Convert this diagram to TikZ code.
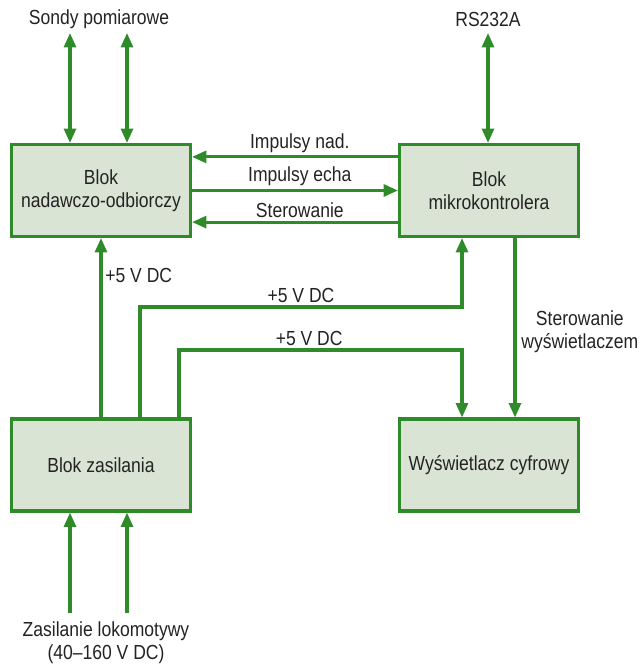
\documentclass[tikz,border=0pt]{standalone}
\usepackage{fontspec}
\setmainfont[FakeStretch=0.86]{Liberation Sans}
\usetikzlibrary{arrows.meta,positioning,calc}
\definecolor{BlkGreen}{RGB}{47,139,42}
\definecolor{BlkFill}{RGB}{217,228,212}
\definecolor{BlkText}{RGB}{35,35,35}
\tikzset{
  blk/box/.style={
    draw=BlkGreen,
    line width=2.2pt,
    fill=BlkFill,
    align=center,
    text=BlkText,
    minimum width=4.475cm,
    minimum height=2.3cm,
    font=\fontsize{14.5}{16.3}\selectfont
  },
  blk/arrow/.style={-{Triangle[length=3.6mm,width=3mm]}, line width=2.2pt, draw=BlkGreen},
  blk/dblarrow/.style={{Triangle[length=3.6mm,width=3mm]}-{Triangle[length=3.6mm,width=3mm]}, line width=2.2pt, draw=BlkGreen},
  blk/label/.style={font=\fontsize{14.5}{16.3}\selectfont, text=BlkText, align=center, inner sep=2pt}
}

\begin{document}
\begin{tikzpicture}[x=1cm,y=1cm]
  \useasboundingbox (0,0) rectangle (16,16.625);
  % blocks
  \node[blk/box] (nad) at (2.525,11.8625) {Blok\\nadawczo-odbiorczy};
  \node[blk/box] (mik) at (12.225,11.8625) {Blok\\mikrokontrolera};
  \node[blk/box] (zas) at (2.525,5.0) {Blok zasilania};
  \node[blk/box] (wys) at (12.225,5.0) {Wyświetlacz cyfrowy};
  % outer labels
  \node[blk/label] (sondy) at (2.475,16.15) {Sondy pomiarowe};
  \node[blk/label] (rs) at (12.2,16.15) {RS232A};
  \node[blk/label] (lok) at (2.65,0.56) {Zasilanie lokomotywy\\(40–160 V DC)};
  % free ends
  \coordinate (s1) at (1.75,15.8);
  \coordinate (s2) at (3.175,15.8);
  \coordinate (r1) at (12.2,15.8);
  \coordinate (l1) at (1.75,1.3);
  \coordinate (l2) at (3.175,1.3);
  \coordinate (c2a) at (3.5,8.95);
  \coordinate (c2b) at (11.55,8.95);
  \coordinate (c3a) at (4.475,7.875);
  \coordinate (c3b) at (11.55,7.875);
  \coordinate (sw) at (12.875,0);
  % probes and serial link
  \draw[blk/dblarrow] (s1) -- (nad.north -| s1);
  \draw[blk/dblarrow] (s2) -- (nad.north -| s2);
  \draw[blk/dblarrow] (r1) -- (mik.north -| r1);
  % links between blocks
  \draw[blk/arrow] ([yshift=8.4mm]mik.west) -- node[blk/label,above,xshift=1.2mm] {Impulsy nad.} ([yshift=8.4mm]nad.east);
  \draw[blk/arrow] (nad.east) -- node[blk/label,above,xshift=1.2mm] {Impulsy echa} (mik.east -| mik.west);
  \draw[blk/arrow] ([yshift=-7.9mm]mik.west) -- node[blk/label,above,xshift=1.2mm] {Sterowanie} ([yshift=-7.9mm]nad.east);
  % supply lines
  \draw[blk/arrow] (zas.north) -- node[blk/label,right,pos=0.79] {+5 V DC} (nad.south);
  \draw[blk/arrow] (zas.north -| c2a) -- (c2a) -- node[blk/label,above,pos=0.5] {+5 V DC} (c2b) -- (mik.south -| c2b);
  \draw[blk/arrow] (zas.north -| c3a) -- (c3a) -- node[blk/label,above,pos=0.46] {+5 V DC} (c3b) -- (wys.north -| c3b);
  \draw[blk/arrow] (mik.south -| sw) -- node[blk/label,right,pos=0.5,xshift=0.5mm,yshift=-1mm] {Sterowanie\\wyświetlaczem} (wys.north -| sw);
  \draw[blk/arrow] (l1) -- (zas.south -| l1);
  \draw[blk/arrow] (l2) -- (zas.south -| l2);
\end{tikzpicture}
\end{document}
